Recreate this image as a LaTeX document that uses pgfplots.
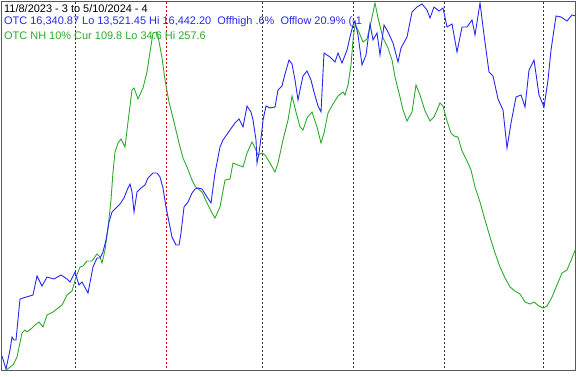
\documentclass[border=0pt]{standalone}
\usepackage{pgfplots}
\pgfplotsset{compat=1.18}
\usepackage{fontspec}
\setmainfont{Liberation Sans}
\definecolor{lblue}{RGB}{40,40,245}
\definecolor{lgreen}{RGB}{45,170,45}
\begin{document}
\begin{tikzpicture}[x=1bp,y=1bp]
\path (0,0) rectangle (576,372);
\begin{axis}[
  at={(1bp,2bp)}, anchor=south west,
  scale only axis, width=574bp, height=368bp,
  xmin=1, xmax=575, ymin=2, ymax=370, y dir=reverse,
  axis line style={draw=gray!70!black, line width=1bp},
  xtick={75,262,353,444,543}, xticklabels={}, ytick=\empty,
  major tick length=0pt,
  xmajorgrids,
  major grid style={black!80, dash pattern=on 2bp off 2bp, line width=0.8bp},
  extra x ticks={166}, extra x tick labels={},
  extra x tick style={grid=major, major grid style={red!90!black, dash pattern=on 2bp off 2bp, line width=0.8bp}},
  clip=true,
]
\addplot[lgreen, line width=0.9bp] coordinates {
(6,370)(13,365)(17,357)(22,333)(25,330)(27,332)(32,328)(35,325)(39,322)(43,327)(47,315)(53,312)(62,305)(67,295)(72,291)(76,277)(80,267)(83,266)(87,261)(92,261)(97,254)(100,257)(102,263)(105,250)(108,228)(111,200)(113,172)(115,152)(118,143)(121,139)(125,147)(128,122)(132,90)(134,88)(138,99)(143,88)(147,72)(150,52)(153,33)(156,32)(158,36)(162,58)(165,80)(169,102)(174,122)(179,143)(183,158)(187,167)(192,180)(195,186)(197,188)(202,192)(207,203)(212,213)(215,218)(220,207)(225,180)(230,179)(233,163)(238,165)(243,167)(247,153)(252,142)(255,148)(258,155)(262,153)(265,155)(270,163)(275,172)(278,163)(283,140)(288,120)(292,96)(296,112)(300,127)(303,130)(307,118)(312,112)(317,127)(321,143)(324,133)(328,113)(333,104)(338,96)(343,92)(345,95)(348,85)(351,65)(353,40)(355,25)(358,30)(363,42)(367,39)(371,22)(375,3)(378,18)(383,38)(388,48)(392,60)(395,77)(400,97)(403,110)(407,121)(412,112)(416,85)(420,95)(425,111)(430,121)(434,117)(437,110)(440,103)(443,106)(447,121)(451,133)(454,136)(458,137)(462,151)(467,161)(471,170)(475,187)(480,202)(485,220)(490,237)(495,253)(500,267)(505,278)(510,287)(515,291)(520,294)(525,302)(530,304)(534,302)(539,306)(543,308)(547,306)(552,297)(557,285)(562,273)(567,270)(572,258)(576,248)
};
\addplot[lblue, line width=0.9bp] coordinates {
(2,356)(6,369)(10,350)(12,337)(14,340)(16,340)(20,299)(23,298)(33,295)(37,276)(42,286)(47,277)(54,279)(61,275)(67,279)(70,282)(75,272)(79,285)(82,282)(88,293)(93,267)(97,258)(100,258)(103,252)(106,240)(109,222)(112,212)(116,208)(120,204)(124,198)(128,188)(130,184)(132,192)(134,212)(137,192)(141,188)(145,185)(148,178)(153,173)(157,173)(160,177)(163,188)(166,207)(169,222)(172,237)(176,245)(179,245)(181,233)(184,207)(188,202)(192,193)(195,189)(198,188)(202,189)(207,197)(211,203)(215,173)(220,147)(223,140)(230,130)(235,123)(239,119)(243,127)(247,106)(251,112)(253,120)(256,140)(257,163)(259,153)(262,130)(263,120)(266,106)(270,108)(275,107)(278,90)(282,86)(285,74)(289,60)(292,64)(295,80)(298,100)(300,90)(303,76)(307,71)(311,80)(314,92)(318,106)(321,112)(324,53)(330,57)(335,62)(338,53)(342,63)(347,50)(350,37)(353,25)(355,21)(358,35)(362,65)(366,55)(370,24)(373,40)(377,33)(380,55)(384,25)(388,32)(393,43)(398,62)(401,48)(407,37)(412,12)(417,7)(422,4)(427,10)(430,18)(434,7)(439,11)(443,8)(447,27)(452,24)(457,52)(462,27)(467,27)(472,20)(475,35)(480,3)(484,35)(489,72)(493,76)(498,99)(503,110)(507,148)(511,123)(516,97)(521,95)(525,107)(529,70)(534,60)(539,95)(544,107)(548,80)(551,50)(556,16)(561,17)(567,21)(572,15)(576,16)
};
\end{axis}
\begin{scope}[every node/.style={anchor=west, inner sep=0pt, font=\fontsize{11}{13}\selectfont}]
\node[black] at (4,363.5) {11/8/2023 - 3 to 5/10/2024 - 4};
\node[lblue] at (4,350) {OTC 16,340.87 Lo 13,521.45 Hi 16,442.20\ \ Offhigh .6\%\ \ Offlow 20.9\% (-1};
\node[lgreen] at (4,336.5) {OTC NH 10\% Cur 109.8 Lo 34.6 Hi 257.6};
\end{scope}
\end{tikzpicture}
\end{document}
